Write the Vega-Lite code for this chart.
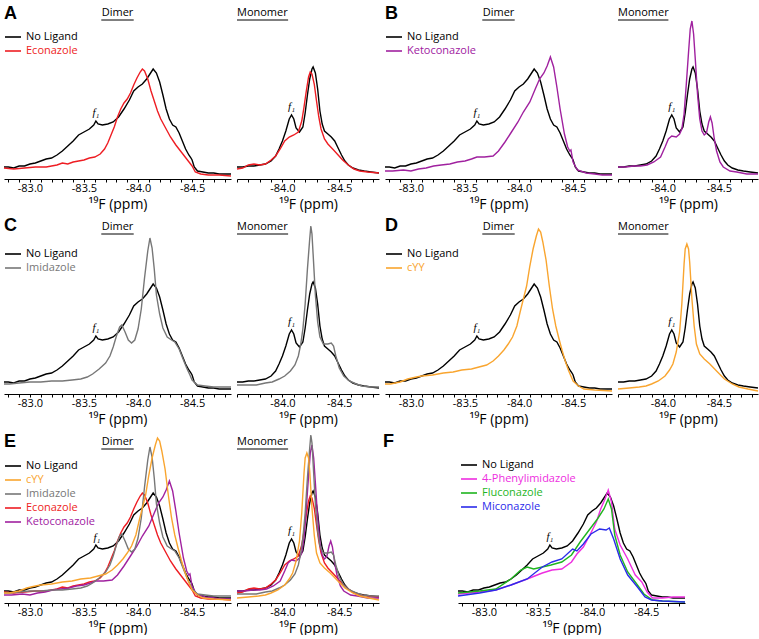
{
"$schema": "https://vega.github.io/schema/vega-lite/v6.json",
"padding": {"left": 1, "top": 3, "right": 0, "bottom": 0},
"background": "white",
"config": {
  "view": {"stroke": null},
  "font": "Open Sans",
  "axis": {"grid": false, "domainColor": "#000", "tickColor": "#000", "tickSize": 3, "labelColor": "#000", "labelFontSize": 11, "labelFont": "Open Sans", "titleFont": "Open Sans", "titleFontSize": 14, "titleFontWeight": "normal", "titleColor": "#000", "labelPadding": 0, "titlePadding": 4, "labelFlush": false, "labelOverlap": false, "domainWidth": 1, "tickWidth": 1},
  "axisX": {"labelOverlap": false, "tickCount": 40, "labelExpr": "(datum.value == -83 || datum.value == -83.5 || datum.value == -84 || datum.value == -84.5) ? '-' + format(abs(datum.value),'.1f') : ''"},
  "legend": {"symbolType": "stroke", "symbolSize": 256, "symbolStrokeWidth": 1.6, "labelFontSize": 11, "labelFont": "Open Sans", "rowPadding": 0, "labelOffset": 4, "padding": 0, "titlePadding": 0},
  "text": {"font": "Open Sans", "color": "#000"}
},
"datasets": {
"dimer": [
{"lig":"No Ligand","ppm":-82.76,"h":12},{"lig":"No Ligand","ppm":-82.8,"h":12},{"lig":"No Ligand","ppm":-82.85,"h":11},{"lig":"No Ligand","ppm":-82.9,"h":13},{"lig":"No Ligand","ppm":-82.95,"h":13},{"lig":"No Ligand","ppm":-83.0,"h":15},{"lig":"No Ligand","ppm":-83.05,"h":16},{"lig":"No Ligand","ppm":-83.1,"h":18},{"lig":"No Ligand","ppm":-83.15,"h":20},{"lig":"No Ligand","ppm":-83.2,"h":21},{"lig":"No Ligand","ppm":-83.25,"h":24},{"lig":"No Ligand","ppm":-83.3,"h":28},{"lig":"No Ligand","ppm":-83.35,"h":33},{"lig":"No Ligand","ppm":-83.4,"h":38},{"lig":"No Ligand","ppm":-83.45,"h":44},{"lig":"No Ligand","ppm":-83.5,"h":47},{"lig":"No Ligand","ppm":-83.55,"h":50},{"lig":"No Ligand","ppm":-83.59,"h":54},{"lig":"No Ligand","ppm":-83.61,"h":58},{"lig":"No Ligand","ppm":-83.63,"h":55},{"lig":"No Ligand","ppm":-83.67,"h":54},{"lig":"No Ligand","ppm":-83.72,"h":55},{"lig":"No Ligand","ppm":-83.77,"h":57},{"lig":"No Ligand","ppm":-83.82,"h":62},{"lig":"No Ligand","ppm":-83.87,"h":70},{"lig":"No Ligand","ppm":-83.92,"h":79},{"lig":"No Ligand","ppm":-83.96,"h":88},{"lig":"No Ligand","ppm":-84.0,"h":92},{"lig":"No Ligand","ppm":-84.04,"h":95},{"lig":"No Ligand","ppm":-84.08,"h":100},{"lig":"No Ligand","ppm":-84.11,"h":105},{"lig":"No Ligand","ppm":-84.14,"h":110},{"lig":"No Ligand","ppm":-84.17,"h":106},{"lig":"No Ligand","ppm":-84.2,"h":97},{"lig":"No Ligand","ppm":-84.23,"h":84},{"lig":"No Ligand","ppm":-84.26,"h":70},{"lig":"No Ligand","ppm":-84.29,"h":60},{"lig":"No Ligand","ppm":-84.32,"h":54},{"lig":"No Ligand","ppm":-84.35,"h":52},{"lig":"No Ligand","ppm":-84.38,"h":46},{"lig":"No Ligand","ppm":-84.41,"h":38},{"lig":"No Ligand","ppm":-84.44,"h":30},{"lig":"No Ligand","ppm":-84.47,"h":24},{"lig":"No Ligand","ppm":-84.49,"h":21},{"lig":"No Ligand","ppm":-84.5,"h":19},{"lig":"No Ligand","ppm":-84.52,"h":12},{"lig":"No Ligand","ppm":-84.55,"h":8},{"lig":"No Ligand","ppm":-84.6,"h":7},{"lig":"No Ligand","ppm":-84.65,"h":6},{"lig":"No Ligand","ppm":-84.7,"h":6},{"lig":"No Ligand","ppm":-84.75,"h":5},{"lig":"No Ligand","ppm":-84.8,"h":5},{"lig":"No Ligand","ppm":-84.86,"h":5},
{"lig":"Econazole","ppm":-82.76,"h":11},{"lig":"Econazole","ppm":-82.85,"h":10},{"lig":"Econazole","ppm":-82.95,"h":11},{"lig":"Econazole","ppm":-83.05,"h":12},{"lig":"Econazole","ppm":-83.15,"h":12},{"lig":"Econazole","ppm":-83.25,"h":14},{"lig":"Econazole","ppm":-83.3,"h":16},{"lig":"Econazole","ppm":-83.35,"h":15},{"lig":"Econazole","ppm":-83.4,"h":17},{"lig":"Econazole","ppm":-83.45,"h":18},{"lig":"Econazole","ppm":-83.5,"h":19},{"lig":"Econazole","ppm":-83.55,"h":21},{"lig":"Econazole","ppm":-83.6,"h":22},{"lig":"Econazole","ppm":-83.65,"h":25},{"lig":"Econazole","ppm":-83.69,"h":30},{"lig":"Econazole","ppm":-83.72,"h":36},{"lig":"Econazole","ppm":-83.75,"h":44},{"lig":"Econazole","ppm":-83.78,"h":52},{"lig":"Econazole","ppm":-83.81,"h":62},{"lig":"Econazole","ppm":-83.84,"h":70},{"lig":"Econazole","ppm":-83.87,"h":76},{"lig":"Econazole","ppm":-83.9,"h":80},{"lig":"Econazole","ppm":-83.93,"h":86},{"lig":"Econazole","ppm":-83.96,"h":94},{"lig":"Econazole","ppm":-83.99,"h":101},{"lig":"Econazole","ppm":-84.02,"h":107},{"lig":"Econazole","ppm":-84.04,"h":110},{"lig":"Econazole","ppm":-84.06,"h":108},{"lig":"Econazole","ppm":-84.09,"h":100},{"lig":"Econazole","ppm":-84.12,"h":88},{"lig":"Econazole","ppm":-84.15,"h":78},{"lig":"Econazole","ppm":-84.18,"h":68},{"lig":"Econazole","ppm":-84.21,"h":60},{"lig":"Econazole","ppm":-84.25,"h":52},{"lig":"Econazole","ppm":-84.3,"h":42},{"lig":"Econazole","ppm":-84.35,"h":34},{"lig":"Econazole","ppm":-84.4,"h":27},{"lig":"Econazole","ppm":-84.45,"h":20},{"lig":"Econazole","ppm":-84.5,"h":13},{"lig":"Econazole","ppm":-84.53,"h":7},{"lig":"Econazole","ppm":-84.58,"h":5},{"lig":"Econazole","ppm":-84.65,"h":4},{"lig":"Econazole","ppm":-84.75,"h":4},{"lig":"Econazole","ppm":-84.86,"h":3},
{"lig":"Ketoconazole","ppm":-82.76,"h":8},{"lig":"Ketoconazole","ppm":-82.83,"h":8},{"lig":"Ketoconazole","ppm":-82.93,"h":9},{"lig":"Ketoconazole","ppm":-83.0,"h":8},{"lig":"Ketoconazole","ppm":-83.07,"h":10},{"lig":"Ketoconazole","ppm":-83.14,"h":11},{"lig":"Ketoconazole","ppm":-83.21,"h":13},{"lig":"Ketoconazole","ppm":-83.28,"h":14},{"lig":"Ketoconazole","ppm":-83.36,"h":15},{"lig":"Ketoconazole","ppm":-83.43,"h":17},{"lig":"Ketoconazole","ppm":-83.5,"h":18},{"lig":"Ketoconazole","ppm":-83.56,"h":20},{"lig":"Ketoconazole","ppm":-83.61,"h":22},{"lig":"Ketoconazole","ppm":-83.68,"h":22},{"lig":"Ketoconazole","ppm":-83.76,"h":23},{"lig":"Ketoconazole","ppm":-83.81,"h":28},{"lig":"Ketoconazole","ppm":-83.87,"h":37},{"lig":"Ketoconazole","ppm":-83.93,"h":47},{"lig":"Ketoconazole","ppm":-83.99,"h":57},{"lig":"Ketoconazole","ppm":-84.04,"h":67},{"lig":"Ketoconazole","ppm":-84.1,"h":77},{"lig":"Ketoconazole","ppm":-84.15,"h":90},{"lig":"Ketoconazole","ppm":-84.19,"h":100},{"lig":"Ketoconazole","ppm":-84.23,"h":106},{"lig":"Ketoconazole","ppm":-84.26,"h":113},{"lig":"Ketoconazole","ppm":-84.29,"h":122},{"lig":"Ketoconazole","ppm":-84.32,"h":112},{"lig":"Ketoconazole","ppm":-84.35,"h":92},{"lig":"Ketoconazole","ppm":-84.38,"h":70},{"lig":"Ketoconazole","ppm":-84.42,"h":45},{"lig":"Ketoconazole","ppm":-84.45,"h":32},{"lig":"Ketoconazole","ppm":-84.47,"h":28},{"lig":"Ketoconazole","ppm":-84.48,"h":29},{"lig":"Ketoconazole","ppm":-84.5,"h":17},{"lig":"Ketoconazole","ppm":-84.54,"h":9},{"lig":"Ketoconazole","ppm":-84.62,"h":6},{"lig":"Ketoconazole","ppm":-84.7,"h":5},{"lig":"Ketoconazole","ppm":-84.77,"h":4},{"lig":"Ketoconazole","ppm":-84.86,"h":4},
{"lig":"Imidazole","ppm":-82.76,"h":10},{"lig":"Imidazole","ppm":-82.81,"h":10},{"lig":"Imidazole","ppm":-82.9,"h":11},{"lig":"Imidazole","ppm":-83.0,"h":12},{"lig":"Imidazole","ppm":-83.1,"h":12},{"lig":"Imidazole","ppm":-83.2,"h":13},{"lig":"Imidazole","ppm":-83.3,"h":13},{"lig":"Imidazole","ppm":-83.39,"h":14},{"lig":"Imidazole","ppm":-83.47,"h":15},{"lig":"Imidazole","ppm":-83.53,"h":17},{"lig":"Imidazole","ppm":-83.58,"h":20},{"lig":"Imidazole","ppm":-83.64,"h":25},{"lig":"Imidazole","ppm":-83.7,"h":31},{"lig":"Imidazole","ppm":-83.74,"h":38},{"lig":"Imidazole","ppm":-83.77,"h":47},{"lig":"Imidazole","ppm":-83.8,"h":58},{"lig":"Imidazole","ppm":-83.83,"h":67},{"lig":"Imidazole","ppm":-83.85,"h":69},{"lig":"Imidazole","ppm":-83.88,"h":62},{"lig":"Imidazole","ppm":-83.91,"h":54},{"lig":"Imidazole","ppm":-83.94,"h":51},{"lig":"Imidazole","ppm":-83.97,"h":54},{"lig":"Imidazole","ppm":-84.0,"h":65},{"lig":"Imidazole","ppm":-84.03,"h":85},{"lig":"Imidazole","ppm":-84.06,"h":116},{"lig":"Imidazole","ppm":-84.09,"h":143},{"lig":"Imidazole","ppm":-84.11,"h":156},{"lig":"Imidazole","ppm":-84.13,"h":146},{"lig":"Imidazole","ppm":-84.15,"h":125},{"lig":"Imidazole","ppm":-84.17,"h":99},{"lig":"Imidazole","ppm":-84.2,"h":80},{"lig":"Imidazole","ppm":-84.23,"h":66},{"lig":"Imidazole","ppm":-84.27,"h":57},{"lig":"Imidazole","ppm":-84.31,"h":54},{"lig":"Imidazole","ppm":-84.34,"h":52},{"lig":"Imidazole","ppm":-84.38,"h":45},{"lig":"Imidazole","ppm":-84.42,"h":34},{"lig":"Imidazole","ppm":-84.45,"h":26},{"lig":"Imidazole","ppm":-84.48,"h":19},{"lig":"Imidazole","ppm":-84.5,"h":14},{"lig":"Imidazole","ppm":-84.55,"h":9},{"lig":"Imidazole","ppm":-84.62,"h":8},{"lig":"Imidazole","ppm":-84.7,"h":7},{"lig":"Imidazole","ppm":-84.86,"h":7},
{"lig":"cYY","ppm":-82.76,"h":10},{"lig":"cYY","ppm":-82.81,"h":10},{"lig":"cYY","ppm":-82.9,"h":12},{"lig":"cYY","ppm":-82.97,"h":15},{"lig":"cYY","ppm":-83.05,"h":17},{"lig":"cYY","ppm":-83.1,"h":18},{"lig":"cYY","ppm":-83.2,"h":19},{"lig":"cYY","ppm":-83.3,"h":21},{"lig":"cYY","ppm":-83.39,"h":22},{"lig":"cYY","ppm":-83.47,"h":24},{"lig":"cYY","ppm":-83.56,"h":25},{"lig":"cYY","ppm":-83.63,"h":27},{"lig":"cYY","ppm":-83.7,"h":29},{"lig":"cYY","ppm":-83.76,"h":33},{"lig":"cYY","ppm":-83.81,"h":38},{"lig":"cYY","ppm":-83.86,"h":44},{"lig":"cYY","ppm":-83.9,"h":50},{"lig":"cYY","ppm":-83.94,"h":57},{"lig":"cYY","ppm":-83.98,"h":68},{"lig":"cYY","ppm":-84.01,"h":82},{"lig":"cYY","ppm":-84.04,"h":95},{"lig":"cYY","ppm":-84.07,"h":108},{"lig":"cYY","ppm":-84.1,"h":128},{"lig":"cYY","ppm":-84.13,"h":145},{"lig":"cYY","ppm":-84.16,"h":158},{"lig":"cYY","ppm":-84.18,"h":165},{"lig":"cYY","ppm":-84.2,"h":162},{"lig":"cYY","ppm":-84.22,"h":152},{"lig":"cYY","ppm":-84.25,"h":134},{"lig":"cYY","ppm":-84.28,"h":108},{"lig":"cYY","ppm":-84.31,"h":85},{"lig":"cYY","ppm":-84.34,"h":68},{"lig":"cYY","ppm":-84.37,"h":55},{"lig":"cYY","ppm":-84.4,"h":43},{"lig":"cYY","ppm":-84.43,"h":32},{"lig":"cYY","ppm":-84.46,"h":23},{"lig":"cYY","ppm":-84.5,"h":13},{"lig":"cYY","ppm":-84.55,"h":8},{"lig":"cYY","ppm":-84.6,"h":5},{"lig":"cYY","ppm":-84.7,"h":4},{"lig":"cYY","ppm":-84.86,"h":3},
{"lig":"4-Phenylimidazole","ppm":-82.76,"h":9},{"lig":"4-Phenylimidazole","ppm":-82.96,"h":11},{"lig":"4-Phenylimidazole","ppm":-83.11,"h":13},{"lig":"4-Phenylimidazole","ppm":-83.25,"h":18},{"lig":"4-Phenylimidazole","ppm":-83.4,"h":24},{"lig":"4-Phenylimidazole","ppm":-83.54,"h":30},{"lig":"4-Phenylimidazole","ppm":-83.63,"h":33},{"lig":"4-Phenylimidazole","ppm":-83.72,"h":34},{"lig":"4-Phenylimidazole","ppm":-83.81,"h":41},{"lig":"4-Phenylimidazole","ppm":-83.86,"h":49},{"lig":"4-Phenylimidazole","ppm":-83.92,"h":56},{"lig":"4-Phenylimidazole","ppm":-83.98,"h":68},{"lig":"4-Phenylimidazole","ppm":-84.04,"h":81},{"lig":"4-Phenylimidazole","ppm":-84.08,"h":94},{"lig":"4-Phenylimidazole","ppm":-84.12,"h":104},{"lig":"4-Phenylimidazole","ppm":-84.15,"h":113},{"lig":"4-Phenylimidazole","ppm":-84.18,"h":101},{"lig":"4-Phenylimidazole","ppm":-84.21,"h":74},{"lig":"4-Phenylimidazole","ppm":-84.26,"h":58},{"lig":"4-Phenylimidazole","ppm":-84.33,"h":44},{"lig":"4-Phenylimidazole","ppm":-84.4,"h":28},{"lig":"4-Phenylimidazole","ppm":-84.46,"h":21},{"lig":"4-Phenylimidazole","ppm":-84.51,"h":11},{"lig":"4-Phenylimidazole","ppm":-84.56,"h":5},{"lig":"4-Phenylimidazole","ppm":-84.65,"h":5},{"lig":"4-Phenylimidazole","ppm":-84.75,"h":6},{"lig":"4-Phenylimidazole","ppm":-84.86,"h":6},
{"lig":"Fluconazole","ppm":-82.76,"h":10},{"lig":"Fluconazole","ppm":-82.96,"h":12},{"lig":"Fluconazole","ppm":-83.11,"h":14},{"lig":"Fluconazole","ppm":-83.25,"h":24},{"lig":"Fluconazole","ppm":-83.34,"h":33},{"lig":"Fluconazole","ppm":-83.4,"h":36},{"lig":"Fluconazole","ppm":-83.46,"h":34},{"lig":"Fluconazole","ppm":-83.54,"h":36},{"lig":"Fluconazole","ppm":-83.62,"h":38},{"lig":"Fluconazole","ppm":-83.72,"h":41},{"lig":"Fluconazole","ppm":-83.81,"h":48},{"lig":"Fluconazole","ppm":-83.89,"h":61},{"lig":"Fluconazole","ppm":-83.98,"h":74},{"lig":"Fluconazole","ppm":-84.05,"h":84},{"lig":"Fluconazole","ppm":-84.11,"h":94},{"lig":"Fluconazole","ppm":-84.15,"h":104},{"lig":"Fluconazole","ppm":-84.18,"h":94},{"lig":"Fluconazole","ppm":-84.21,"h":68},{"lig":"Fluconazole","ppm":-84.26,"h":48},{"lig":"Fluconazole","ppm":-84.33,"h":31},{"lig":"Fluconazole","ppm":-84.42,"h":18},{"lig":"Fluconazole","ppm":-84.48,"h":9},{"lig":"Fluconazole","ppm":-84.56,"h":3},{"lig":"Fluconazole","ppm":-84.65,"h":2},{"lig":"Fluconazole","ppm":-84.86,"h":1},
{"lig":"Miconazole","ppm":-82.76,"h":7},{"lig":"Miconazole","ppm":-82.96,"h":10},{"lig":"Miconazole","ppm":-83.11,"h":13},{"lig":"Miconazole","ppm":-83.25,"h":18},{"lig":"Miconazole","ppm":-83.4,"h":24},{"lig":"Miconazole","ppm":-83.54,"h":36},{"lig":"Miconazole","ppm":-83.63,"h":41},{"lig":"Miconazole","ppm":-83.72,"h":44},{"lig":"Miconazole","ppm":-83.82,"h":54},{"lig":"Miconazole","ppm":-83.86,"h":52},{"lig":"Miconazole","ppm":-83.92,"h":59},{"lig":"Miconazole","ppm":-83.99,"h":69},{"lig":"Miconazole","ppm":-84.07,"h":74},{"lig":"Miconazole","ppm":-84.13,"h":73},{"lig":"Miconazole","ppm":-84.16,"h":75},{"lig":"Miconazole","ppm":-84.2,"h":64},{"lig":"Miconazole","ppm":-84.26,"h":44},{"lig":"Miconazole","ppm":-84.33,"h":28},{"lig":"Miconazole","ppm":-84.42,"h":16},{"lig":"Miconazole","ppm":-84.49,"h":6},{"lig":"Miconazole","ppm":-84.55,"h":3},{"lig":"Miconazole","ppm":-84.65,"h":2},{"lig":"Miconazole","ppm":-84.86,"h":1}
],
"mono": [
{"lig":"No Ligand","ppm":-83.6,"h":12},{"lig":"No Ligand","ppm":-83.65,"h":12},{"lig":"No Ligand","ppm":-83.7,"h":13},{"lig":"No Ligand","ppm":-83.75,"h":13},{"lig":"No Ligand","ppm":-83.8,"h":14},{"lig":"No Ligand","ppm":-83.85,"h":15},{"lig":"No Ligand","ppm":-83.9,"h":18},{"lig":"No Ligand","ppm":-83.94,"h":23},{"lig":"No Ligand","ppm":-83.97,"h":30},{"lig":"No Ligand","ppm":-84.0,"h":38},{"lig":"No Ligand","ppm":-84.03,"h":48},{"lig":"No Ligand","ppm":-84.06,"h":60},{"lig":"No Ligand","ppm":-84.08,"h":64},{"lig":"No Ligand","ppm":-84.1,"h":60},{"lig":"No Ligand","ppm":-84.12,"h":51},{"lig":"No Ligand","ppm":-84.15,"h":47},{"lig":"No Ligand","ppm":-84.18,"h":52},{"lig":"No Ligand","ppm":-84.2,"h":66},{"lig":"No Ligand","ppm":-84.22,"h":84},{"lig":"No Ligand","ppm":-84.24,"h":100},{"lig":"No Ligand","ppm":-84.26,"h":110},{"lig":"No Ligand","ppm":-84.27,"h":112},{"lig":"No Ligand","ppm":-84.29,"h":106},{"lig":"No Ligand","ppm":-84.31,"h":90},{"lig":"No Ligand","ppm":-84.33,"h":68},{"lig":"No Ligand","ppm":-84.35,"h":55},{"lig":"No Ligand","ppm":-84.37,"h":48},{"lig":"No Ligand","ppm":-84.4,"h":45},{"lig":"No Ligand","ppm":-84.43,"h":42},{"lig":"No Ligand","ppm":-84.46,"h":38},{"lig":"No Ligand","ppm":-84.49,"h":31},{"lig":"No Ligand","ppm":-84.52,"h":24},{"lig":"No Ligand","ppm":-84.55,"h":18},{"lig":"No Ligand","ppm":-84.58,"h":14},{"lig":"No Ligand","ppm":-84.62,"h":11},{"lig":"No Ligand","ppm":-84.67,"h":9},{"lig":"No Ligand","ppm":-84.72,"h":8},{"lig":"No Ligand","ppm":-84.78,"h":7},{"lig":"No Ligand","ppm":-84.85,"h":6},
{"lig":"Econazole","ppm":-83.6,"h":10},{"lig":"Econazole","ppm":-83.65,"h":11},{"lig":"Econazole","ppm":-83.7,"h":14},{"lig":"Econazole","ppm":-83.75,"h":15},{"lig":"Econazole","ppm":-83.8,"h":14},{"lig":"Econazole","ppm":-83.85,"h":15},{"lig":"Econazole","ppm":-83.9,"h":19},{"lig":"Econazole","ppm":-83.94,"h":23},{"lig":"Econazole","ppm":-83.98,"h":30},{"lig":"Econazole","ppm":-84.02,"h":38},{"lig":"Econazole","ppm":-84.06,"h":42},{"lig":"Econazole","ppm":-84.1,"h":44},{"lig":"Econazole","ppm":-84.14,"h":47},{"lig":"Econazole","ppm":-84.17,"h":58},{"lig":"Econazole","ppm":-84.19,"h":72},{"lig":"Econazole","ppm":-84.21,"h":88},{"lig":"Econazole","ppm":-84.23,"h":102},{"lig":"Econazole","ppm":-84.245,"h":107},{"lig":"Econazole","ppm":-84.26,"h":105},{"lig":"Econazole","ppm":-84.28,"h":95},{"lig":"Econazole","ppm":-84.3,"h":78},{"lig":"Econazole","ppm":-84.32,"h":62},{"lig":"Econazole","ppm":-84.34,"h":50},{"lig":"Econazole","ppm":-84.37,"h":40},{"lig":"Econazole","ppm":-84.4,"h":35},{"lig":"Econazole","ppm":-84.45,"h":29},{"lig":"Econazole","ppm":-84.49,"h":24},{"lig":"Econazole","ppm":-84.53,"h":19},{"lig":"Econazole","ppm":-84.58,"h":14},{"lig":"Econazole","ppm":-84.63,"h":10},{"lig":"Econazole","ppm":-84.68,"h":8},{"lig":"Econazole","ppm":-84.75,"h":7},{"lig":"Econazole","ppm":-84.85,"h":6},
{"lig":"Ketoconazole","ppm":-83.6,"h":12},{"lig":"Ketoconazole","ppm":-83.67,"h":12},{"lig":"Ketoconazole","ppm":-83.74,"h":13},{"lig":"Ketoconazole","ppm":-83.8,"h":13},{"lig":"Ketoconazole","ppm":-83.86,"h":14},{"lig":"Ketoconazole","ppm":-83.92,"h":17},{"lig":"Ketoconazole","ppm":-83.98,"h":22},{"lig":"Ketoconazole","ppm":-84.02,"h":32},{"lig":"Ketoconazole","ppm":-84.05,"h":40},{"lig":"Ketoconazole","ppm":-84.08,"h":43},{"lig":"Ketoconazole","ppm":-84.12,"h":42},{"lig":"Ketoconazole","ppm":-84.15,"h":45},{"lig":"Ketoconazole","ppm":-84.17,"h":50},{"lig":"Ketoconazole","ppm":-84.19,"h":65},{"lig":"Ketoconazole","ppm":-84.21,"h":95},{"lig":"Ketoconazole","ppm":-84.23,"h":127},{"lig":"Ketoconazole","ppm":-84.245,"h":150},{"lig":"Ketoconazole","ppm":-84.26,"h":158},{"lig":"Ketoconazole","ppm":-84.275,"h":145},{"lig":"Ketoconazole","ppm":-84.29,"h":120},{"lig":"Ketoconazole","ppm":-84.31,"h":85},{"lig":"Ketoconazole","ppm":-84.33,"h":60},{"lig":"Ketoconazole","ppm":-84.35,"h":48},{"lig":"Ketoconazole","ppm":-84.37,"h":44},{"lig":"Ketoconazole","ppm":-84.39,"h":46},{"lig":"Ketoconazole","ppm":-84.41,"h":57},{"lig":"Ketoconazole","ppm":-84.425,"h":62},{"lig":"Ketoconazole","ppm":-84.44,"h":56},{"lig":"Ketoconazole","ppm":-84.46,"h":40},{"lig":"Ketoconazole","ppm":-84.48,"h":28},{"lig":"Ketoconazole","ppm":-84.51,"h":17},{"lig":"Ketoconazole","ppm":-84.54,"h":12},{"lig":"Ketoconazole","ppm":-84.6,"h":8},{"lig":"Ketoconazole","ppm":-84.66,"h":7},{"lig":"Ketoconazole","ppm":-84.75,"h":5},{"lig":"Ketoconazole","ppm":-84.85,"h":5},
{"lig":"Imidazole","ppm":-83.6,"h":9},{"lig":"Imidazole","ppm":-83.7,"h":9},{"lig":"Imidazole","ppm":-83.77,"h":9},{"lig":"Imidazole","ppm":-83.85,"h":11},{"lig":"Imidazole","ppm":-83.91,"h":12},{"lig":"Imidazole","ppm":-83.97,"h":15},{"lig":"Imidazole","ppm":-84.02,"h":18},{"lig":"Imidazole","ppm":-84.07,"h":23},{"lig":"Imidazole","ppm":-84.11,"h":29},{"lig":"Imidazole","ppm":-84.14,"h":38},{"lig":"Imidazole","ppm":-84.16,"h":49},{"lig":"Imidazole","ppm":-84.18,"h":65},{"lig":"Imidazole","ppm":-84.2,"h":90},{"lig":"Imidazole","ppm":-84.22,"h":125},{"lig":"Imidazole","ppm":-84.24,"h":155},{"lig":"Imidazole","ppm":-84.25,"h":168},{"lig":"Imidazole","ppm":-84.26,"h":160},{"lig":"Imidazole","ppm":-84.27,"h":140},{"lig":"Imidazole","ppm":-84.29,"h":99},{"lig":"Imidazole","ppm":-84.31,"h":72},{"lig":"Imidazole","ppm":-84.33,"h":57},{"lig":"Imidazole","ppm":-84.36,"h":50},{"lig":"Imidazole","ppm":-84.4,"h":50},{"lig":"Imidazole","ppm":-84.43,"h":51},{"lig":"Imidazole","ppm":-84.45,"h":48},{"lig":"Imidazole","ppm":-84.47,"h":38},{"lig":"Imidazole","ppm":-84.5,"h":26},{"lig":"Imidazole","ppm":-84.54,"h":18},{"lig":"Imidazole","ppm":-84.59,"h":13},{"lig":"Imidazole","ppm":-84.65,"h":10},{"lig":"Imidazole","ppm":-84.7,"h":8},{"lig":"Imidazole","ppm":-84.78,"h":7},{"lig":"Imidazole","ppm":-84.85,"h":7},
{"lig":"cYY","ppm":-83.6,"h":5},{"lig":"cYY","ppm":-83.7,"h":6},{"lig":"cYY","ppm":-83.79,"h":7},{"lig":"cYY","ppm":-83.85,"h":8},{"lig":"cYY","ppm":-83.9,"h":10},{"lig":"cYY","ppm":-83.96,"h":13},{"lig":"cYY","ppm":-84.02,"h":18},{"lig":"cYY","ppm":-84.06,"h":24},{"lig":"cYY","ppm":-84.09,"h":30},{"lig":"cYY","ppm":-84.12,"h":42},{"lig":"cYY","ppm":-84.15,"h":62},{"lig":"cYY","ppm":-84.17,"h":90},{"lig":"cYY","ppm":-84.19,"h":130},{"lig":"cYY","ppm":-84.2,"h":145},{"lig":"cYY","ppm":-84.215,"h":150},{"lig":"cYY","ppm":-84.23,"h":145},{"lig":"cYY","ppm":-84.24,"h":132},{"lig":"cYY","ppm":-84.26,"h":95},{"lig":"cYY","ppm":-84.28,"h":68},{"lig":"cYY","ppm":-84.3,"h":50},{"lig":"cYY","ppm":-84.33,"h":40},{"lig":"cYY","ppm":-84.37,"h":35},{"lig":"cYY","ppm":-84.42,"h":30},{"lig":"cYY","ppm":-84.48,"h":23},{"lig":"cYY","ppm":-84.55,"h":15},{"lig":"cYY","ppm":-84.62,"h":10},{"lig":"cYY","ppm":-84.68,"h":7},{"lig":"cYY","ppm":-84.76,"h":5},{"lig":"cYY","ppm":-84.85,"h":3}
]
},
"spacing": 2,
"resolve": {"scale": {"color": "independent", "x": "independent", "y": "independent"}, "legend": {"color": "independent"}},
"vconcat": [
{"hconcat": [
 {"hconcat": [
  {"width": 227, "height": 176, "layer": [
   {"data": {"name": "dimer"}, "transform": [{"filter": {"field": "lig", "oneOf": ["No Ligand", "Econazole"]}}], "mark": {"type": "line", "strokeWidth": 1.4}, "encoding": {
     "x": {"field": "ppm", "type": "quantitative", "scale": {"domain": [-84.86, -82.76], "reverse": true, "nice": false, "zero": false}, "axis": {"title": "¹⁹F (ppm)", "labelOverlap": false, "tickCount": 40, "values": [-82.8,-82.9,-83,-83.1,-83.2,-83.3,-83.4,-83.5,-83.6,-83.7,-83.8,-83.9,-84,-84.1,-84.2,-84.3,-84.4,-84.5,-84.6,-84.7,-84.8]}},
     "y": {"field": "h", "type": "quantitative", "scale": {"domain": [0, 176], "nice": false, "zero": false}, "axis": null},
     "color": {"field": "lig", "type": "nominal", "scale": {"domain": ["No Ligand", "Econazole"], "range": ["#000000", "#ee1d23"]}, "legend": {"title": null, "orient": "none", "legendX": 0, "legendY": 25, "encode": {"labels": {"update": {"fill": {"signal": "datum.value=='Econazole'?'#ee1d23':datum.value=='Ketoconazole'?'#a0219f':datum.value=='Imidazole'?'#777777':datum.value=='cYY'?'#f9a52f':datum.value=='4-Phenylimidazole'?'#ee2ee0':datum.value=='Fluconazole'?'#1fb51f':datum.value=='Miconazole'?'#2b2bea':'#000000'"}}}}}}}},
   {"data": {"values": [{}]}, "mark": {"type": "text", "text": "A", "align": "left", "baseline": "top", "font": "Liberation Sans", "fontWeight": "bold", "fontSize": 18}, "encoding": {"x": {"datum": -82.76}, "y": {"datum": 174, "axis": null}}},
   {"data": {"values": [{}]}, "mark": {"type": "text", "text": "Dimer", "align": "center", "baseline": "top", "fontSize": 11}, "encoding": {"x": {"datum": -83.81}, "y": {"datum": 172, "axis": null}}},
   {"data": {"values": [{}]}, "mark": {"type": "rule", "strokeWidth": 1, "color": "#000"}, "encoding": {"x": {"datum": -83.66}, "x2": {"datum": -83.96}, "y": {"datum": 159, "axis": null}}},
   {"data": {"values": [{}]}, "mark": {"type": "text", "text": "f₁", "font": "Liberation Serif", "fontStyle": "italic", "fontSize": 11, "baseline": "bottom"}, "encoding": {"x": {"datum": -83.61}, "y": {"datum": 61, "axis": null}}}
  ]},
  {"width": 142, "height": 176, "layer": [
   {"data": {"name": "mono"}, "transform": [{"filter": {"field": "lig", "oneOf": ["No Ligand", "Econazole"]}}], "mark": {"type": "line", "strokeWidth": 1.4}, "encoding": {
     "x": {"field": "ppm", "type": "quantitative", "scale": {"domain": [-84.85, -83.6], "reverse": true, "nice": false, "zero": false}, "axis": {"title": "¹⁹F (ppm)", "labelOverlap": false, "tickCount": 40, "values": [-83.6,-83.7,-83.8,-83.9,-84,-84.1,-84.2,-84.3,-84.4,-84.5,-84.6,-84.7,-84.8]}},
     "y": {"field": "h", "type": "quantitative", "scale": {"domain": [0, 176], "nice": false, "zero": false}, "axis": null},
     "color": {"field": "lig", "type": "nominal", "scale": {"domain": ["No Ligand", "Econazole"], "range": ["#000000", "#ee1d23"]}, "legend": null}}},
   {"data": {"values": [{}]}, "mark": {"type": "text", "text": "Monomer", "align": "left", "baseline": "top", "fontSize": 11}, "encoding": {"x": {"datum": -83.6}, "y": {"datum": 172, "axis": null}}},
   {"data": {"values": [{}]}, "mark": {"type": "rule", "strokeWidth": 1, "color": "#000"}, "encoding": {"x": {"datum": -83.6}, "x2": {"datum": -84.05}, "y": {"datum": 159, "axis": null}}},
   {"data": {"values": [{}]}, "mark": {"type": "text", "text": "f₁", "font": "Liberation Serif", "fontStyle": "italic", "fontSize": 11, "baseline": "bottom"}, "encoding": {"x": {"datum": -84.08}, "y": {"datum": 67, "axis": null}}}
  ]}
 ], "spacing": 6, "bounds": "flush", "resolve": {"scale": {"color": "independent", "x": "independent", "y": "independent"}, "legend": {"color": "independent"}}},
 {"hconcat": [
  {"width": 227, "height": 176, "layer": [
   {"data": {"name": "dimer"}, "transform": [{"filter": {"field": "lig", "oneOf": ["No Ligand", "Ketoconazole"]}}], "mark": {"type": "line", "strokeWidth": 1.4}, "encoding": {
     "x": {"field": "ppm", "type": "quantitative", "scale": {"domain": [-84.86, -82.76], "reverse": true, "nice": false, "zero": false}, "axis": {"title": "¹⁹F (ppm)", "labelOverlap": false, "tickCount": 40, "values": [-82.8,-82.9,-83,-83.1,-83.2,-83.3,-83.4,-83.5,-83.6,-83.7,-83.8,-83.9,-84,-84.1,-84.2,-84.3,-84.4,-84.5,-84.6,-84.7,-84.8]}},
     "y": {"field": "h", "type": "quantitative", "scale": {"domain": [0, 176], "nice": false, "zero": false}, "axis": null},
     "color": {"field": "lig", "type": "nominal", "scale": {"domain": ["No Ligand", "Ketoconazole"], "range": ["#000000", "#a0219f"]}, "legend": {"title": null, "orient": "none", "legendX": 0, "legendY": 25, "encode": {"labels": {"update": {"fill": {"signal": "datum.value=='Econazole'?'#ee1d23':datum.value=='Ketoconazole'?'#a0219f':datum.value=='Imidazole'?'#777777':datum.value=='cYY'?'#f9a52f':datum.value=='4-Phenylimidazole'?'#ee2ee0':datum.value=='Fluconazole'?'#1fb51f':datum.value=='Miconazole'?'#2b2bea':'#000000'"}}}}}}}},
   {"data": {"values": [{}]}, "mark": {"type": "text", "text": "B", "align": "left", "baseline": "top", "font": "Liberation Sans", "fontWeight": "bold", "fontSize": 18}, "encoding": {"x": {"datum": -82.76}, "y": {"datum": 174, "axis": null}}},
   {"data": {"values": [{}]}, "mark": {"type": "text", "text": "Dimer", "align": "center", "baseline": "top", "fontSize": 11}, "encoding": {"x": {"datum": -83.81}, "y": {"datum": 172, "axis": null}}},
   {"data": {"values": [{}]}, "mark": {"type": "rule", "strokeWidth": 1, "color": "#000"}, "encoding": {"x": {"datum": -83.66}, "x2": {"datum": -83.96}, "y": {"datum": 159, "axis": null}}},
   {"data": {"values": [{}]}, "mark": {"type": "text", "text": "f₁", "font": "Liberation Serif", "fontStyle": "italic", "fontSize": 11, "baseline": "bottom"}, "encoding": {"x": {"datum": -83.61}, "y": {"datum": 61, "axis": null}}}
  ]},
  {"width": 140, "height": 176, "layer": [
   {"data": {"name": "mono"}, "transform": [{"filter": {"field": "lig", "oneOf": ["No Ligand", "Ketoconazole"]}}], "mark": {"type": "line", "strokeWidth": 1.4}, "encoding": {
     "x": {"field": "ppm", "type": "quantitative", "scale": {"domain": [-84.85, -83.6], "reverse": true, "nice": false, "zero": false}, "axis": {"title": "¹⁹F (ppm)", "labelOverlap": false, "tickCount": 40, "values": [-83.6,-83.7,-83.8,-83.9,-84,-84.1,-84.2,-84.3,-84.4,-84.5,-84.6,-84.7,-84.8]}},
     "y": {"field": "h", "type": "quantitative", "scale": {"domain": [0, 176], "nice": false, "zero": false}, "axis": null},
     "color": {"field": "lig", "type": "nominal", "scale": {"domain": ["No Ligand", "Ketoconazole"], "range": ["#000000", "#a0219f"]}, "legend": null}}},
   {"data": {"values": [{}]}, "mark": {"type": "text", "text": "Monomer", "align": "left", "baseline": "top", "fontSize": 11}, "encoding": {"x": {"datum": -83.6}, "y": {"datum": 172, "axis": null}}},
   {"data": {"values": [{}]}, "mark": {"type": "rule", "strokeWidth": 1, "color": "#000"}, "encoding": {"x": {"datum": -83.6}, "x2": {"datum": -84.05}, "y": {"datum": 159, "axis": null}}},
   {"data": {"values": [{}]}, "mark": {"type": "text", "text": "f₁", "font": "Liberation Serif", "fontStyle": "italic", "fontSize": 11, "baseline": "bottom"}, "encoding": {"x": {"datum": -84.08}, "y": {"datum": 67, "axis": null}}}
  ]}
 ], "spacing": 6, "bounds": "flush", "resolve": {"scale": {"color": "independent", "x": "independent", "y": "independent"}, "legend": {"color": "independent"}}}
], "spacing": 0, "resolve": {"scale": {"color": "independent", "x": "independent", "y": "independent"}, "legend": {"color": "independent"}}},
{"hconcat": [
 {"hconcat": [
  {"width": 227, "height": 181, "layer": [
   {"data": {"name": "dimer"}, "transform": [{"filter": {"field": "lig", "oneOf": ["No Ligand", "Imidazole"]}}], "mark": {"type": "line", "strokeWidth": 1.4}, "encoding": {
     "x": {"field": "ppm", "type": "quantitative", "scale": {"domain": [-84.86, -82.76], "reverse": true, "nice": false, "zero": false}, "axis": {"title": "¹⁹F (ppm)", "labelOverlap": false, "tickCount": 40, "values": [-82.8,-82.9,-83,-83.1,-83.2,-83.3,-83.4,-83.5,-83.6,-83.7,-83.8,-83.9,-84,-84.1,-84.2,-84.3,-84.4,-84.5,-84.6,-84.7,-84.8]}},
     "y": {"field": "h", "type": "quantitative", "scale": {"domain": [0, 181], "nice": false, "zero": false}, "axis": null},
     "color": {"field": "lig", "type": "nominal", "scale": {"domain": ["No Ligand", "Imidazole"], "range": ["#000000", "#777777"]}, "legend": {"title": null, "orient": "none", "legendX": 0, "legendY": 32, "encode": {"labels": {"update": {"fill": {"signal": "datum.value=='Econazole'?'#ee1d23':datum.value=='Ketoconazole'?'#a0219f':datum.value=='Imidazole'?'#777777':datum.value=='cYY'?'#f9a52f':datum.value=='4-Phenylimidazole'?'#ee2ee0':datum.value=='Fluconazole'?'#1fb51f':datum.value=='Miconazole'?'#2b2bea':'#000000'"}}}}}}}},
   {"data": {"values": [{}]}, "mark": {"type": "text", "text": "C", "align": "left", "baseline": "top", "font": "Liberation Sans", "fontWeight": "bold", "fontSize": 18}, "encoding": {"x": {"datum": -82.76}, "y": {"datum": 177, "axis": null}}},
   {"data": {"values": [{}]}, "mark": {"type": "text", "text": "Dimer", "align": "center", "baseline": "top", "fontSize": 11}, "encoding": {"x": {"datum": -83.81}, "y": {"datum": 173, "axis": null}}},
   {"data": {"values": [{}]}, "mark": {"type": "rule", "strokeWidth": 1, "color": "#000"}, "encoding": {"x": {"datum": -83.66}, "x2": {"datum": -83.96}, "y": {"datum": 160, "axis": null}}},
   {"data": {"values": [{}]}, "mark": {"type": "text", "text": "f₁", "font": "Liberation Serif", "fontStyle": "italic", "fontSize": 11, "baseline": "bottom"}, "encoding": {"x": {"datum": -83.61}, "y": {"datum": 61, "axis": null}}}
  ]},
  {"width": 142, "height": 181, "layer": [
   {"data": {"name": "mono"}, "transform": [{"filter": {"field": "lig", "oneOf": ["No Ligand", "Imidazole"]}}], "mark": {"type": "line", "strokeWidth": 1.4}, "encoding": {
     "x": {"field": "ppm", "type": "quantitative", "scale": {"domain": [-84.85, -83.6], "reverse": true, "nice": false, "zero": false}, "axis": {"title": "¹⁹F (ppm)", "labelOverlap": false, "tickCount": 40, "values": [-83.6,-83.7,-83.8,-83.9,-84,-84.1,-84.2,-84.3,-84.4,-84.5,-84.6,-84.7,-84.8]}},
     "y": {"field": "h", "type": "quantitative", "scale": {"domain": [0, 181], "nice": false, "zero": false}, "axis": null},
     "color": {"field": "lig", "type": "nominal", "scale": {"domain": ["No Ligand", "Imidazole"], "range": ["#000000", "#777777"]}, "legend": null}}},
   {"data": {"values": [{}]}, "mark": {"type": "text", "text": "Monomer", "align": "left", "baseline": "top", "fontSize": 11}, "encoding": {"x": {"datum": -83.6}, "y": {"datum": 173, "axis": null}}},
   {"data": {"values": [{}]}, "mark": {"type": "rule", "strokeWidth": 1, "color": "#000"}, "encoding": {"x": {"datum": -83.6}, "x2": {"datum": -84.05}, "y": {"datum": 160, "axis": null}}},
   {"data": {"values": [{}]}, "mark": {"type": "text", "text": "f₁", "font": "Liberation Serif", "fontStyle": "italic", "fontSize": 11, "baseline": "bottom"}, "encoding": {"x": {"datum": -84.08}, "y": {"datum": 67, "axis": null}}}
  ]}
 ], "spacing": 6, "bounds": "flush", "resolve": {"scale": {"color": "independent", "x": "independent", "y": "independent"}, "legend": {"color": "independent"}}},
 {"hconcat": [
  {"width": 227, "height": 181, "layer": [
   {"data": {"name": "dimer"}, "transform": [{"filter": {"field": "lig", "oneOf": ["No Ligand", "cYY"]}}], "mark": {"type": "line", "strokeWidth": 1.4}, "encoding": {
     "x": {"field": "ppm", "type": "quantitative", "scale": {"domain": [-84.86, -82.76], "reverse": true, "nice": false, "zero": false}, "axis": {"title": "¹⁹F (ppm)", "labelOverlap": false, "tickCount": 40, "values": [-82.8,-82.9,-83,-83.1,-83.2,-83.3,-83.4,-83.5,-83.6,-83.7,-83.8,-83.9,-84,-84.1,-84.2,-84.3,-84.4,-84.5,-84.6,-84.7,-84.8]}},
     "y": {"field": "h", "type": "quantitative", "scale": {"domain": [0, 181], "nice": false, "zero": false}, "axis": null},
     "color": {"field": "lig", "type": "nominal", "scale": {"domain": ["No Ligand", "cYY"], "range": ["#000000", "#f9a52f"]}, "legend": {"title": null, "orient": "none", "legendX": 0, "legendY": 32, "encode": {"labels": {"update": {"fill": {"signal": "datum.value=='Econazole'?'#ee1d23':datum.value=='Ketoconazole'?'#a0219f':datum.value=='Imidazole'?'#777777':datum.value=='cYY'?'#f9a52f':datum.value=='4-Phenylimidazole'?'#ee2ee0':datum.value=='Fluconazole'?'#1fb51f':datum.value=='Miconazole'?'#2b2bea':'#000000'"}}}}}}}},
   {"data": {"values": [{}]}, "mark": {"type": "text", "text": "D", "align": "left", "baseline": "top", "font": "Liberation Sans", "fontWeight": "bold", "fontSize": 18}, "encoding": {"x": {"datum": -82.76}, "y": {"datum": 177, "axis": null}}},
   {"data": {"values": [{}]}, "mark": {"type": "text", "text": "Dimer", "align": "center", "baseline": "top", "fontSize": 11}, "encoding": {"x": {"datum": -83.81}, "y": {"datum": 173, "axis": null}}},
   {"data": {"values": [{}]}, "mark": {"type": "rule", "strokeWidth": 1, "color": "#000"}, "encoding": {"x": {"datum": -83.66}, "x2": {"datum": -83.96}, "y": {"datum": 160, "axis": null}}},
   {"data": {"values": [{}]}, "mark": {"type": "text", "text": "f₁", "font": "Liberation Serif", "fontStyle": "italic", "fontSize": 11, "baseline": "bottom"}, "encoding": {"x": {"datum": -83.61}, "y": {"datum": 61, "axis": null}}}
  ]},
  {"width": 140, "height": 181, "layer": [
   {"data": {"name": "mono"}, "transform": [{"filter": {"field": "lig", "oneOf": ["No Ligand", "cYY"]}}], "mark": {"type": "line", "strokeWidth": 1.4}, "encoding": {
     "x": {"field": "ppm", "type": "quantitative", "scale": {"domain": [-84.85, -83.6], "reverse": true, "nice": false, "zero": false}, "axis": {"title": "¹⁹F (ppm)", "labelOverlap": false, "tickCount": 40, "values": [-83.6,-83.7,-83.8,-83.9,-84,-84.1,-84.2,-84.3,-84.4,-84.5,-84.6,-84.7,-84.8]}},
     "y": {"field": "h", "type": "quantitative", "scale": {"domain": [0, 181], "nice": false, "zero": false}, "axis": null},
     "color": {"field": "lig", "type": "nominal", "scale": {"domain": ["No Ligand", "cYY"], "range": ["#000000", "#f9a52f"]}, "legend": null}}},
   {"data": {"values": [{}]}, "mark": {"type": "text", "text": "Monomer", "align": "left", "baseline": "top", "fontSize": 11}, "encoding": {"x": {"datum": -83.6}, "y": {"datum": 173, "axis": null}}},
   {"data": {"values": [{}]}, "mark": {"type": "rule", "strokeWidth": 1, "color": "#000"}, "encoding": {"x": {"datum": -83.6}, "x2": {"datum": -84.05}, "y": {"datum": 160, "axis": null}}},
   {"data": {"values": [{}]}, "mark": {"type": "text", "text": "f₁", "font": "Liberation Serif", "fontStyle": "italic", "fontSize": 11, "baseline": "bottom"}, "encoding": {"x": {"datum": -84.08}, "y": {"datum": 67, "axis": null}}}
  ]}
 ], "spacing": 6, "bounds": "flush", "resolve": {"scale": {"color": "independent", "x": "independent", "y": "independent"}, "legend": {"color": "independent"}}}
], "spacing": 0, "resolve": {"scale": {"color": "independent", "x": "independent", "y": "independent"}, "legend": {"color": "independent"}}},
{"hconcat": [
 {"hconcat": [
  {"width": 227, "height": 175, "layer": [
   {"data": {"name": "dimer"}, "transform": [{"filter": {"field": "lig", "oneOf": ["No Ligand", "cYY", "Imidazole", "Econazole", "Ketoconazole"]}}], "mark": {"type": "line", "strokeWidth": 1.4}, "encoding": {
     "x": {"field": "ppm", "type": "quantitative", "scale": {"domain": [-84.86, -82.76], "reverse": true, "nice": false, "zero": false}, "axis": {"title": "¹⁹F (ppm)", "labelOverlap": false, "tickCount": 40, "values": [-82.8,-82.9,-83,-83.1,-83.2,-83.3,-83.4,-83.5,-83.6,-83.7,-83.8,-83.9,-84,-84.1,-84.2,-84.3,-84.4,-84.5,-84.6,-84.7,-84.8]}},
     "y": {"field": "h", "type": "quantitative", "scale": {"domain": [0, 175], "nice": false, "zero": false}, "axis": null},
     "color": {"field": "lig", "type": "nominal", "scale": {"domain": ["No Ligand", "cYY", "Imidazole", "Econazole", "Ketoconazole"], "range": ["#000000", "#f9a52f", "#777777", "#ee1d23", "#a0219f"]}, "legend": {"title": null, "orient": "none", "legendX": 0, "legendY": 29, "encode": {"labels": {"update": {"fill": {"signal": "datum.value=='Econazole'?'#ee1d23':datum.value=='Ketoconazole'?'#a0219f':datum.value=='Imidazole'?'#777777':datum.value=='cYY'?'#f9a52f':datum.value=='4-Phenylimidazole'?'#ee2ee0':datum.value=='Fluconazole'?'#1fb51f':datum.value=='Miconazole'?'#2b2bea':'#000000'"}}}}}}}},
   {"data": {"values": [{}]}, "mark": {"type": "text", "text": "E", "align": "left", "baseline": "top", "font": "Liberation Sans", "fontWeight": "bold", "fontSize": 18}, "encoding": {"x": {"datum": -82.76}, "y": {"datum": 170, "axis": null}}},
   {"data": {"values": [{}]}, "mark": {"type": "text", "text": "Dimer", "align": "center", "baseline": "top", "fontSize": 11}, "encoding": {"x": {"datum": -83.81}, "y": {"datum": 167, "axis": null}}},
   {"data": {"values": [{}]}, "mark": {"type": "rule", "strokeWidth": 1, "color": "#000"}, "encoding": {"x": {"datum": -83.66}, "x2": {"datum": -83.96}, "y": {"datum": 154, "axis": null}}},
   {"data": {"values": [{}]}, "mark": {"type": "text", "text": "f₁", "font": "Liberation Serif", "fontStyle": "italic", "fontSize": 11, "baseline": "bottom"}, "encoding": {"x": {"datum": -83.62}, "y": {"datum": 60, "axis": null}}}
  ]},
  {"width": 142, "height": 175, "layer": [
   {"data": {"name": "mono"}, "transform": [{"filter": {"field": "lig", "oneOf": ["No Ligand", "cYY", "Imidazole", "Econazole", "Ketoconazole"]}}], "mark": {"type": "line", "strokeWidth": 1.4}, "encoding": {
     "x": {"field": "ppm", "type": "quantitative", "scale": {"domain": [-84.85, -83.6], "reverse": true, "nice": false, "zero": false}, "axis": {"title": "¹⁹F (ppm)", "labelOverlap": false, "tickCount": 40, "values": [-83.6,-83.7,-83.8,-83.9,-84,-84.1,-84.2,-84.3,-84.4,-84.5,-84.6,-84.7,-84.8]}},
     "y": {"field": "h", "type": "quantitative", "scale": {"domain": [0, 175], "nice": false, "zero": false}, "axis": null},
     "color": {"field": "lig", "type": "nominal", "scale": {"domain": ["No Ligand", "cYY", "Imidazole", "Econazole", "Ketoconazole"], "range": ["#000000", "#f9a52f", "#777777", "#ee1d23", "#a0219f"]}, "legend": null}}},
   {"data": {"values": [{}]}, "mark": {"type": "text", "text": "Monomer", "align": "left", "baseline": "top", "fontSize": 11}, "encoding": {"x": {"datum": -83.6}, "y": {"datum": 167, "axis": null}}},
   {"data": {"values": [{}]}, "mark": {"type": "rule", "strokeWidth": 1, "color": "#000"}, "encoding": {"x": {"datum": -83.6}, "x2": {"datum": -84.05}, "y": {"datum": 154, "axis": null}}},
   {"data": {"values": [{}]}, "mark": {"type": "text", "text": "f₁", "font": "Liberation Serif", "fontStyle": "italic", "fontSize": 11, "baseline": "bottom"}, "encoding": {"x": {"datum": -84.08}, "y": {"datum": 67, "axis": null}}}
  ]}
 ], "spacing": 6, "bounds": "flush", "resolve": {"scale": {"color": "independent", "x": "independent", "y": "independent"}, "legend": {"color": "independent"}}},
 {"width": 227, "height": 175, "layer": [
   {"data": {"name": "dimer"}, "transform": [{"filter": {"field": "lig", "oneOf": ["No Ligand", "4-Phenylimidazole", "Fluconazole", "Miconazole"]}}], "mark": {"type": "line", "strokeWidth": 1.4}, "encoding": {
     "x": {"field": "ppm", "type": "quantitative", "scale": {"domain": [-84.86, -82.76], "reverse": true, "nice": false, "zero": false}, "axis": {"title": "¹⁹F (ppm)", "labelOverlap": false, "tickCount": 40, "values": [-82.8,-82.9,-83,-83.1,-83.2,-83.3,-83.4,-83.5,-83.6,-83.7,-83.8,-83.9,-84,-84.1,-84.2,-84.3,-84.4,-84.5,-84.6,-84.7,-84.8]}},
     "y": {"field": "h", "type": "quantitative", "scale": {"domain": [0, 175], "nice": false, "zero": false}, "axis": null},
     "color": {"field": "lig", "type": "nominal", "scale": {"domain": ["No Ligand", "4-Phenylimidazole", "Fluconazole", "Miconazole"], "range": ["#000000", "#ee2ee0", "#1fb51f", "#2b2bea"]}, "legend": {"title": null, "orient": "none", "legendX": 2, "legendY": 28, "encode": {"labels": {"update": {"fill": {"signal": "datum.value=='Econazole'?'#ee1d23':datum.value=='Ketoconazole'?'#a0219f':datum.value=='Imidazole'?'#777777':datum.value=='cYY'?'#f9a52f':datum.value=='4-Phenylimidazole'?'#ee2ee0':datum.value=='Fluconazole'?'#1fb51f':datum.value=='Miconazole'?'#2b2bea':'#000000'"}}}}}}}},
   {"data": {"values": [{}]}, "mark": {"type": "text", "text": "F", "align": "left", "baseline": "top", "font": "Liberation Sans", "fontWeight": "bold", "fontSize": 18}, "encoding": {"x": {"datum": -82.066}, "y": {"datum": 170, "axis": null}}},
   {"data": {"values": [{}]}, "mark": {"type": "text", "text": "f₁", "font": "Liberation Serif", "fontStyle": "italic", "fontSize": 11, "baseline": "bottom"}, "encoding": {"x": {"datum": -83.61}, "y": {"datum": 61, "axis": null}}}
 ]}
], "spacing": 0, "resolve": {"scale": {"color": "independent", "x": "independent", "y": "independent"}, "legend": {"color": "independent"}}}
]
}
